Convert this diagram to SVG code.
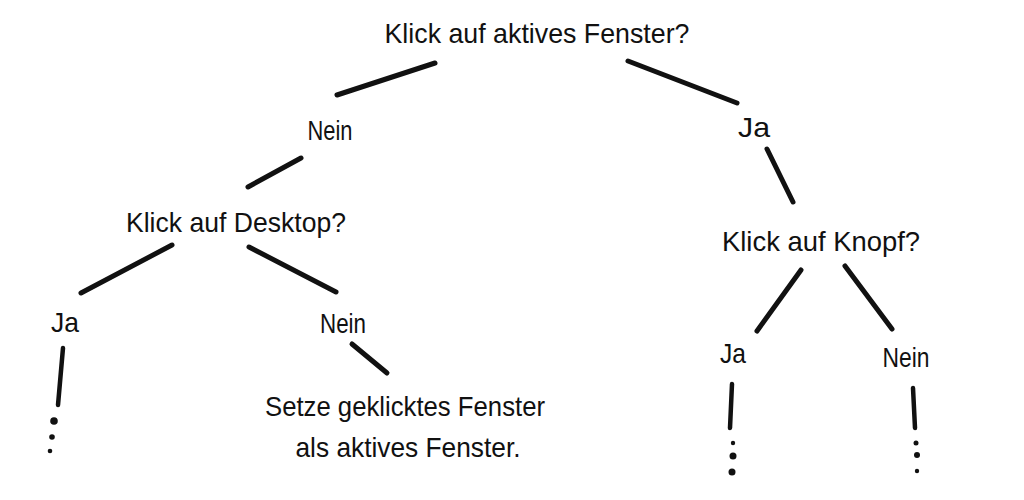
<svg xmlns="http://www.w3.org/2000/svg" width="1024" height="500" viewBox="0 0 1024 500">
<style>
.t{font-family:"Liberation Sans","DejaVu Sans",sans-serif;font-size:28px;fill:#111;text-anchor:middle}
.c{stroke:#111;stroke-width:5;stroke-linecap:round;fill:none}
.v{stroke:#111;stroke-width:4.5;stroke-linecap:round;fill:none}
.d{fill:#111}
</style>
<rect width="1024" height="500" fill="#fff"/>
<g id="connectors">
<line class="c" x1="435" y1="63" x2="337" y2="95"/>
<line class="c" x1="628" y1="61" x2="737" y2="103"/>
<line class="c" x1="301" y1="158" x2="248" y2="187"/>
<line class="c" x1="767" y1="149" x2="793" y2="202"/>
<line class="c" x1="172" y1="245" x2="81" y2="293"/>
<line class="c" x1="249" y1="247" x2="336" y2="292"/>
<line class="c" x1="352" y1="344" x2="387" y2="373"/>
<line class="c" x1="801" y1="270" x2="757" y2="331"/>
<line class="c" x1="845" y1="266" x2="892" y2="329"/>
<line class="v" x1="63" y1="348" x2="58" y2="405"/>
<line class="v" x1="732" y1="384" x2="730" y2="428"/>
<line class="v" x1="913" y1="388" x2="915" y2="428"/>
</g>
<g id="n-root"><text class="t" x="537" y="43" textLength="305" lengthAdjust="spacingAndGlyphs">Klick auf aktives Fenster?</text></g>
<g id="n-nein1"><text class="t" x="330" y="140" textLength="45" lengthAdjust="spacingAndGlyphs">Nein</text></g>
<g id="n-ja1"><text class="t" x="754" y="137" textLength="32" lengthAdjust="spacingAndGlyphs">Ja</text></g>
<g id="n-desktop"><text class="t" x="236" y="232" textLength="220" lengthAdjust="spacingAndGlyphs">Klick auf Desktop?</text></g>
<g id="n-knopf"><text class="t" x="821" y="251" textLength="198" lengthAdjust="spacingAndGlyphs">Klick auf Knopf?</text></g>
<g id="n-ja2"><text class="t" x="65" y="332" textLength="28" lengthAdjust="spacingAndGlyphs">Ja</text>
<circle class="d" cx="54" cy="421" r="3.8"/><circle class="d" cx="52" cy="437" r="2.8"/><circle class="d" cx="50" cy="451" r="2.3"/></g>
<g id="n-nein2"><text class="t" x="343" y="333" textLength="46" lengthAdjust="spacingAndGlyphs">Nein</text></g>
<g id="n-setze"><text class="t" x="405" y="416" textLength="280" lengthAdjust="spacingAndGlyphs">Setze geklicktes Fenster</text>
<text class="t" x="408" y="457" textLength="225" lengthAdjust="spacingAndGlyphs">als aktives Fenster.</text></g>
<g id="n-ja3"><text class="t" x="733" y="363" textLength="26" lengthAdjust="spacingAndGlyphs">Ja</text>
<circle class="d" cx="733" cy="443" r="2.2"/><circle class="d" cx="733" cy="456" r="3.5"/><circle class="d" cx="732" cy="472" r="3.5"/></g>
<g id="n-nein3"><text class="t" x="906" y="367" textLength="47" lengthAdjust="spacingAndGlyphs">Nein</text>
<circle class="d" cx="916" cy="443" r="2.5"/><circle class="d" cx="917" cy="455" r="3"/><circle class="d" cx="917" cy="471" r="2.2"/></g>
</svg>
